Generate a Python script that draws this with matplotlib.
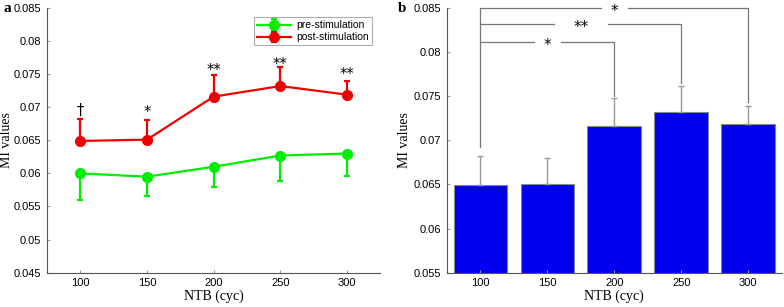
import matplotlib.pyplot as plt
import numpy as np

# NTB data
ntb = [100, 150, 200, 250, 300]
pre_mean = [0.0600, 0.0595, 0.0610, 0.0627, 0.0630]
pre_err = [0.0040, 0.0029, 0.0030, 0.0038, 0.0034]
post_mean = [0.0649, 0.0651, 0.0716, 0.0732, 0.0719]
post_err = [0.0033, 0.0029, 0.0032, 0.0029, 0.0020]
marks_a = ["\u2020", "*", "**", "**", "**"]
marks_a_y = [0.0695, 0.0695, 0.0759, 0.0767, 0.0752]

# significance brackets for panel b: (from, to, height, foot of right leg, label)
brackets = [(0, 4, 0.0850, 0.0743, "*"),
            (0, 3, 0.0832, 0.0765, "**"),
            (0, 2, 0.0811, 0.0750, "*")]

sans = "Liberation Sans"
serif = "Liberation Serif"
axcol = "#555555"

fig = plt.figure(figsize=(7.84, 3.07), dpi=100)
ax1 = fig.add_axes([0.060, 0.112, 0.425, 0.862])
ax2 = fig.add_axes([0.570, 0.112, 0.427, 0.862])

def style(ax):
    for s in ["top", "right"]:
        ax.spines[s].set_visible(False)
    for s in ["left", "bottom"]:
        ax.spines[s].set_color(axcol)
        ax.spines[s].set_linewidth(0.8)
    ax.tick_params(direction="in", length=2.5, color="#999999", labelsize=8, pad=4)
    for lab in ax.get_xticklabels() + ax.get_yticklabels():
        lab.set_fontfamily(sans)
    ax.set_xlabel("NTB (cyc)", fontfamily=serif, fontsize=10, labelpad=1)
    ax.set_ylabel("MI values", fontfamily=serif, fontsize=10, labelpad=2)

# panel a
green = "#00ee00"
red = "#ee0000"
ax1.errorbar(ntb, pre_mean, yerr=[pre_err, np.zeros(5)], color=green, lw=1.6,
             marker="o", ms=7, capsize=2.5, capthick=1.6, elinewidth=1.6,
             label="pre-stimulation")
ax1.errorbar(ntb, post_mean, yerr=[np.zeros(5), post_err], color=red, lw=1.6,
             marker="o", ms=7, capsize=2.5, capthick=1.6, elinewidth=1.6,
             label="post-stimulation")
for x, y, m in zip(ntb, marks_a_y, marks_a):
    dy = 0 if m == "\u2020" else -0.0003
    ax1.text(x, y + dy, m, ha="center", va="center", fontsize=10.5, fontfamily=["DejaVu Sans"])
ax1.set_xlim(75, 325)
ax1.set_ylim(0.045, 0.085)
ax1.set_xticks(ntb)
ax1.set_yticks(np.arange(0.045, 0.0851, 0.005))
ax1.set_yticklabels(["0.045", "0.05", "0.055", "0.06", "0.065", "0.07", "0.075", "0.08", "0.085"])
style(ax1)
ax1.yaxis.set_label_coords(-0.102, 0.5)
leg = ax1.legend(loc="upper right", bbox_to_anchor=(0.99, 0.985), prop={"family": sans, "size": 7.5},
                 fancybox=False, edgecolor="#999999", handlelength=3.2, borderpad=0.3,
                 labelspacing=0.2, handletextpad=0.5)
leg.get_frame().set_linewidth(0.8)

# panel b
pos = np.arange(5)
ax2.bar(pos, post_mean, width=0.8, color="#0000ee", edgecolor="#888888", linewidth=0.8)
ax2.errorbar(pos, post_mean, yerr=[np.zeros(5), post_err], fmt="none", ecolor="#999999",
             elinewidth=1, capsize=2.5, capthick=1)
ax2.plot([0, 0], [0.0692, 0.0850], color="#777777", lw=0.9)
for i0, i1, h, foot, lab in brackets:
    mid = (i0 + i1) / 2
    gap = 0.4 if lab == "**" else 0.2
    ax2.plot([i0, mid - gap], [h, h], color="#777777", lw=0.9, clip_on=False)
    ax2.plot([mid + gap, i1, i1], [h, h, foot], color="#777777", lw=0.9, clip_on=False)
    ax2.text(mid, h - 0.0004, lab, ha="center", va="center", fontsize=11, fontfamily=["DejaVu Sans"])
ax2.set_xlim(-0.5, 4.5)
ax2.set_ylim(0.055, 0.085)
ax2.set_xticks(pos)
ax2.set_xticklabels([str(v) for v in ntb])
ax2.set_yticks(np.arange(0.055, 0.0851, 0.005))
ax2.set_yticklabels(["0.055", "0.06", "0.065", "0.07", "0.075", "0.08", "0.085"])
style(ax2)

fig.text(0.004, 0.96, "a", fontfamily=serif, fontweight="bold", fontsize=11)
fig.text(0.508, 0.96, "b", fontfamily=serif, fontweight="bold", fontsize=11)

fig.savefig("out.png", dpi=100)
